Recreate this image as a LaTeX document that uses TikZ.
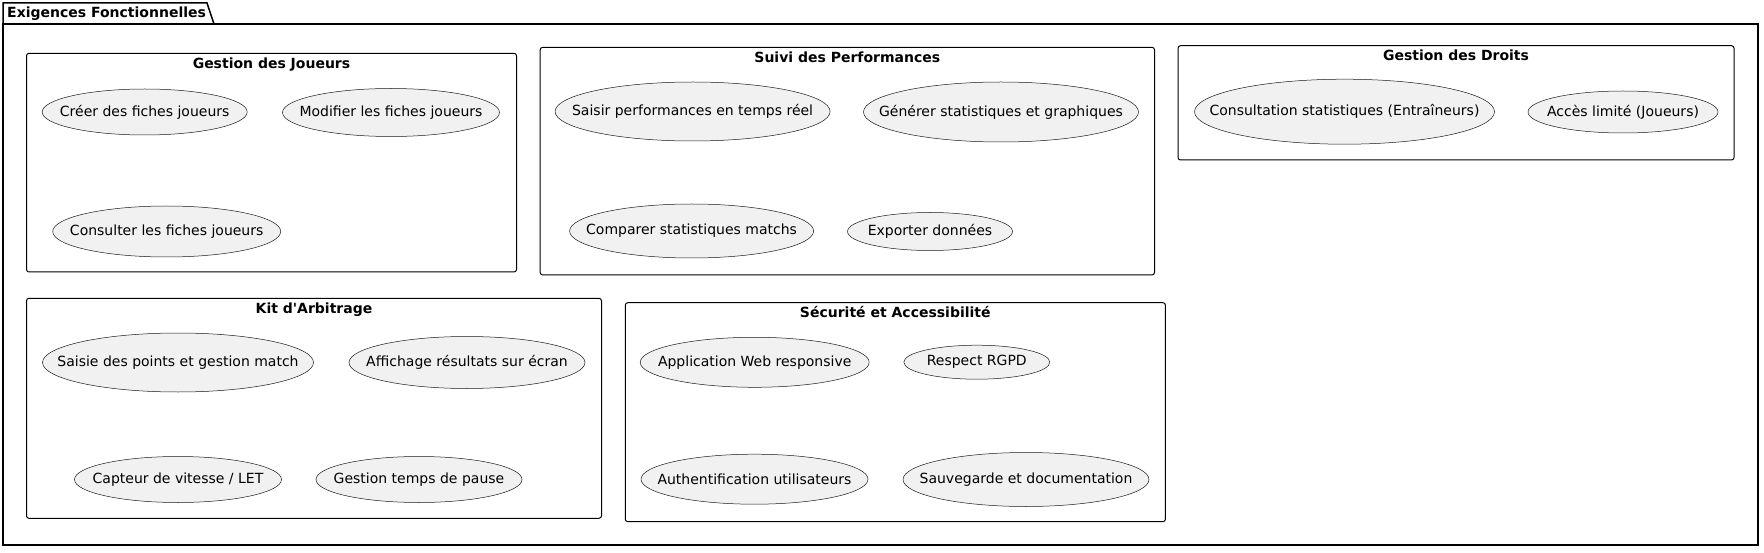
\documentclass[tikz,border=0pt]{standalone}
\usepackage{fontspec}
\setmainfont{DejaVu Sans}
\usetikzlibrary{shapes.geometric}
\definecolor{ucfill}{HTML}{F1F1F1}
\definecolor{ucline}{HTML}{181818}
\newcommand\uctext[1]{\makebox[0pt]{#1}}
\tikzset{
  x=1pt, y=-1pt,
  uc/.style={ellipse, draw=ucline, fill=ucfill, line width=0.5pt, inner sep=0pt, font=\fontsize{14}{16}\selectfont},
  grp/.style={draw=black, line width=1pt, rounded corners=2.5pt},
  grptitle/.style={font=\bfseries\fontsize{14}{16}\selectfont, inner sep=0pt, anchor=base},
  pkg/.style={draw=black, line width=1.5pt},
}
\begin{document}
\begin{tikzpicture}
\useasboundingbox (0,0) rectangle (1764,553);
% outer package
\draw[pkg] (3,24) -- (3,3) -- (207,3) -- (214,24);
\draw[pkg] (3,24) rectangle (1758,545);
\node[grptitle, anchor=base west] (pkgtitle) at (7,18) {Exigences Fonctionnelles};

% Gestion des Joueurs
\draw[grp] (26.5,53.3) rectangle (516.5,272);
\node[grptitle] (gjt) at (271.5,68.3) {Gestion des Joueurs};
\node[uc, minimum width=205, minimum height=46] (gj1) at (144.7,112) {\uctext{Créer des fiches joueurs}};
\node[uc, minimum width=217, minimum height=48] (gj2) at (391,112.5) {\uctext{Modifier les fiches joueurs}};
\node[uc, minimum width=228, minimum height=51] (gj3) at (166.7,231.5) {\uctext{Consulter les fiches joueurs}};

% Suivi des Performances
\draw[grp] (540.2,47.3) rectangle (1154.5,275);
\node[grptitle] (spt) at (847.3,62.5) {Suivi des Performances};
\node[uc, minimum width=275, minimum height=59] (sp1) at (692.6,111.5) {\uctext{Saisir performances en temps réel}};
\node[uc, minimum width=275, minimum height=60] (sp2) at (1001,112) {\uctext{Générer statistiques et graphiques}};
\node[uc, minimum width=244, minimum height=54] (sp3) at (691.6,231) {\uctext{Comparer statistiques matchs}};
\node[uc, minimum width=165, minimum height=38] (sp4) at (930,231.5) {\uctext{Exporter données}};

% Gestion des Droits
\draw[grp] (1178,45.7) rectangle (1734,160);
\node[grptitle] (gdt) at (1456,60.5) {Gestion des Droits};
\node[uc, minimum width=300, minimum height=65] (gd1) at (1344.5,111.7) {\uctext{Consultation statistiques (Entraîneurs)}};
\node[uc, minimum width=190, minimum height=42] (gd2) at (1623,112) {\uctext{Accès limité (Joueurs)}};

% Kit d'Arbitrage
\draw[grp] (26.5,298.3) rectangle (601.5,518.3);
\node[grptitle] (kat) at (314,313.5) {Kit d\textquotesingle Arbitrage};
\node[uc, minimum width=271, minimum height=59] (ka1) at (178,362.5) {\uctext{Saisie des points et gestion match}};
\node[uc, minimum width=236, minimum height=52] (ka2) at (467,362.5) {\uctext{Affichage résultats sur écran}};
\node[uc, minimum width=207, minimum height=46] (ka3) at (178,479.5) {\uctext{Capteur de vitesse / LET}};
\node[uc, minimum width=206, minimum height=46] (ka4) at (419,479.5) {\uctext{Gestion temps de pause}};

% Securite et Accessibilite
\draw[grp] (625.3,302.7) rectangle (1165.4,521.7);
\node[grptitle] (sat) at (895.3,318) {Sécurité et Accessibilité};
\node[uc, minimum width=229, minimum height=50] (sa1) at (754.7,362.3) {\uctext{Application Web responsive}};
\node[uc, minimum width=146, minimum height=34] (sa2) at (976.8,362.2) {\uctext{Respect RGPD}};
\node[uc, minimum width=227, minimum height=50] (sa3) at (754.5,479.2) {\uctext{Authentification utilisateurs}};
\node[uc, minimum width=246, minimum height=54] (sa4) at (1026,479.5) {\uctext{Sauvegarde et documentation}};
\end{tikzpicture}
\end{document}
